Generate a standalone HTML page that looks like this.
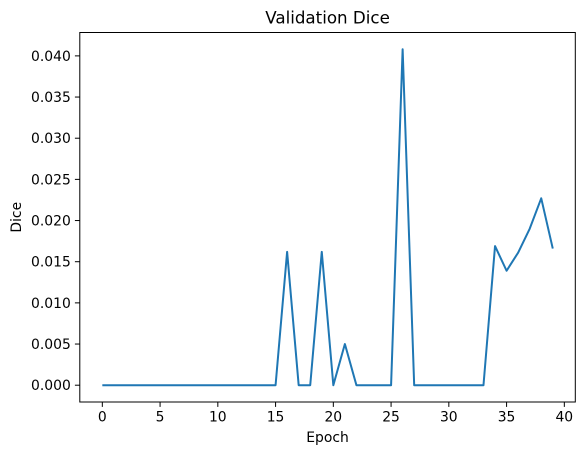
<!DOCTYPE html>
<html><head><meta charset="utf-8"><style>
html,body{margin:0;padding:0;background:#fff;}
svg{display:block;font-family:"DejaVu Sans","Liberation Sans",sans-serif;}
</style></head><body>
<svg id="chart" width="584" height="455"></svg>
<script>
const epochs = [0,1,2,3,4,5,6,7,8,9,10,11,12,13,14,15,16,17,18,19,20,21,22,23,24,25,26,27,28,29,30,31,32,33,34,35,36,37,38,39];
const dice = [0,0,0,0,0,0,0,0,0,0,0,0,0,0,0,0,0.0162,0,0,0.0162,0,0.005,0,0,0,0,0.0408,0,0,0,0,0,0,0,0.0169,0.0139,0.0161,0.019,0.0227,0.0166];
const xTicks = [0,5,10,15,20,25,30,35,40];
const yTicks = [0,0.005,0.01,0.015,0.02,0.025,0.03,0.035,0.04];
const yTickLabels = ["0.000","0.005","0.010","0.015","0.020","0.025","0.030","0.035","0.040"];

const L=79.8,R=575.3,T=32.5,B=402;
const xmin=Math.min(...epochs),xmax=Math.max(...epochs),xm=(xmax-xmin)*0.05;
const ymin=Math.min(...dice),ymax=Math.max(...dice),ym=(ymax-ymin)*0.05;
const x=v=>L+(v-(xmin-xm))/((xmax+xm)-(xmin-xm))*(R-L);
const y=v=>B-(v-(ymin-ym))/((ymax+ym)-(ymin-ym))*(B-T);
const svg=document.getElementById('chart');
const NS='http://www.w3.org/2000/svg';
function mk(tag,attrs,parent){const e=document.createElementNS(NS,tag);for(const k in attrs)e.setAttribute(k,attrs[k]);(parent||svg).appendChild(e);return e;}

let d='';
epochs.forEach((e,i)=>{d+=(i?'L':'M')+x(e).toFixed(2)+','+y(dice[i]).toFixed(2);});
const line=mk('path',{d:d,fill:'none',stroke:'#1f77b4','stroke-width':2,'stroke-linejoin':'round'});



const frame=mk('rect',{x:L,y:T,width:R-L,height:B-T,fill:'none',stroke:'#000','stroke-width':1});



xTicks.forEach(t=>{
  const px=x(t);
  const tk=mk('line',{x1:px,x2:px,y1:B,y2:B+4.9,stroke:'#000','stroke-width':1});
  
  
  const tx=mk('text',{x:px,y:B+19.5,'text-anchor':'middle','font-size':13.9,fill:'#000'});
  tx.textContent=t;
  
  
});
yTicks.forEach((t,i)=>{
  const py=y(t);
  const tk=mk('line',{x1:L-4.9,x2:L,y1:py,y2:py,stroke:'#000','stroke-width':1});
  
  
  const tx=mk('text',{x:L-9,y:py+5,'text-anchor':'end','font-size':13.9,fill:'#000'});
  tx.textContent=yTickLabels[i];
  
  
});
const title=mk('text',{x:(L+R)/2,y:T-9,'text-anchor':'middle','font-size':16.7,fill:'#000'});
title.textContent='Validation Dice';


const xl=mk('text',{x:(L+R)/2,y:442,'text-anchor':'middle','font-size':13.9,fill:'#000'});
xl.textContent='Epoch';


const yl=mk('text',{x:0,y:0,'text-anchor':'middle','font-size':13.9,fill:'#000',transform:'translate(21,'+((T+B)/2)+') rotate(-90)'});
yl.textContent='Dice';


</script>
</body></html>
